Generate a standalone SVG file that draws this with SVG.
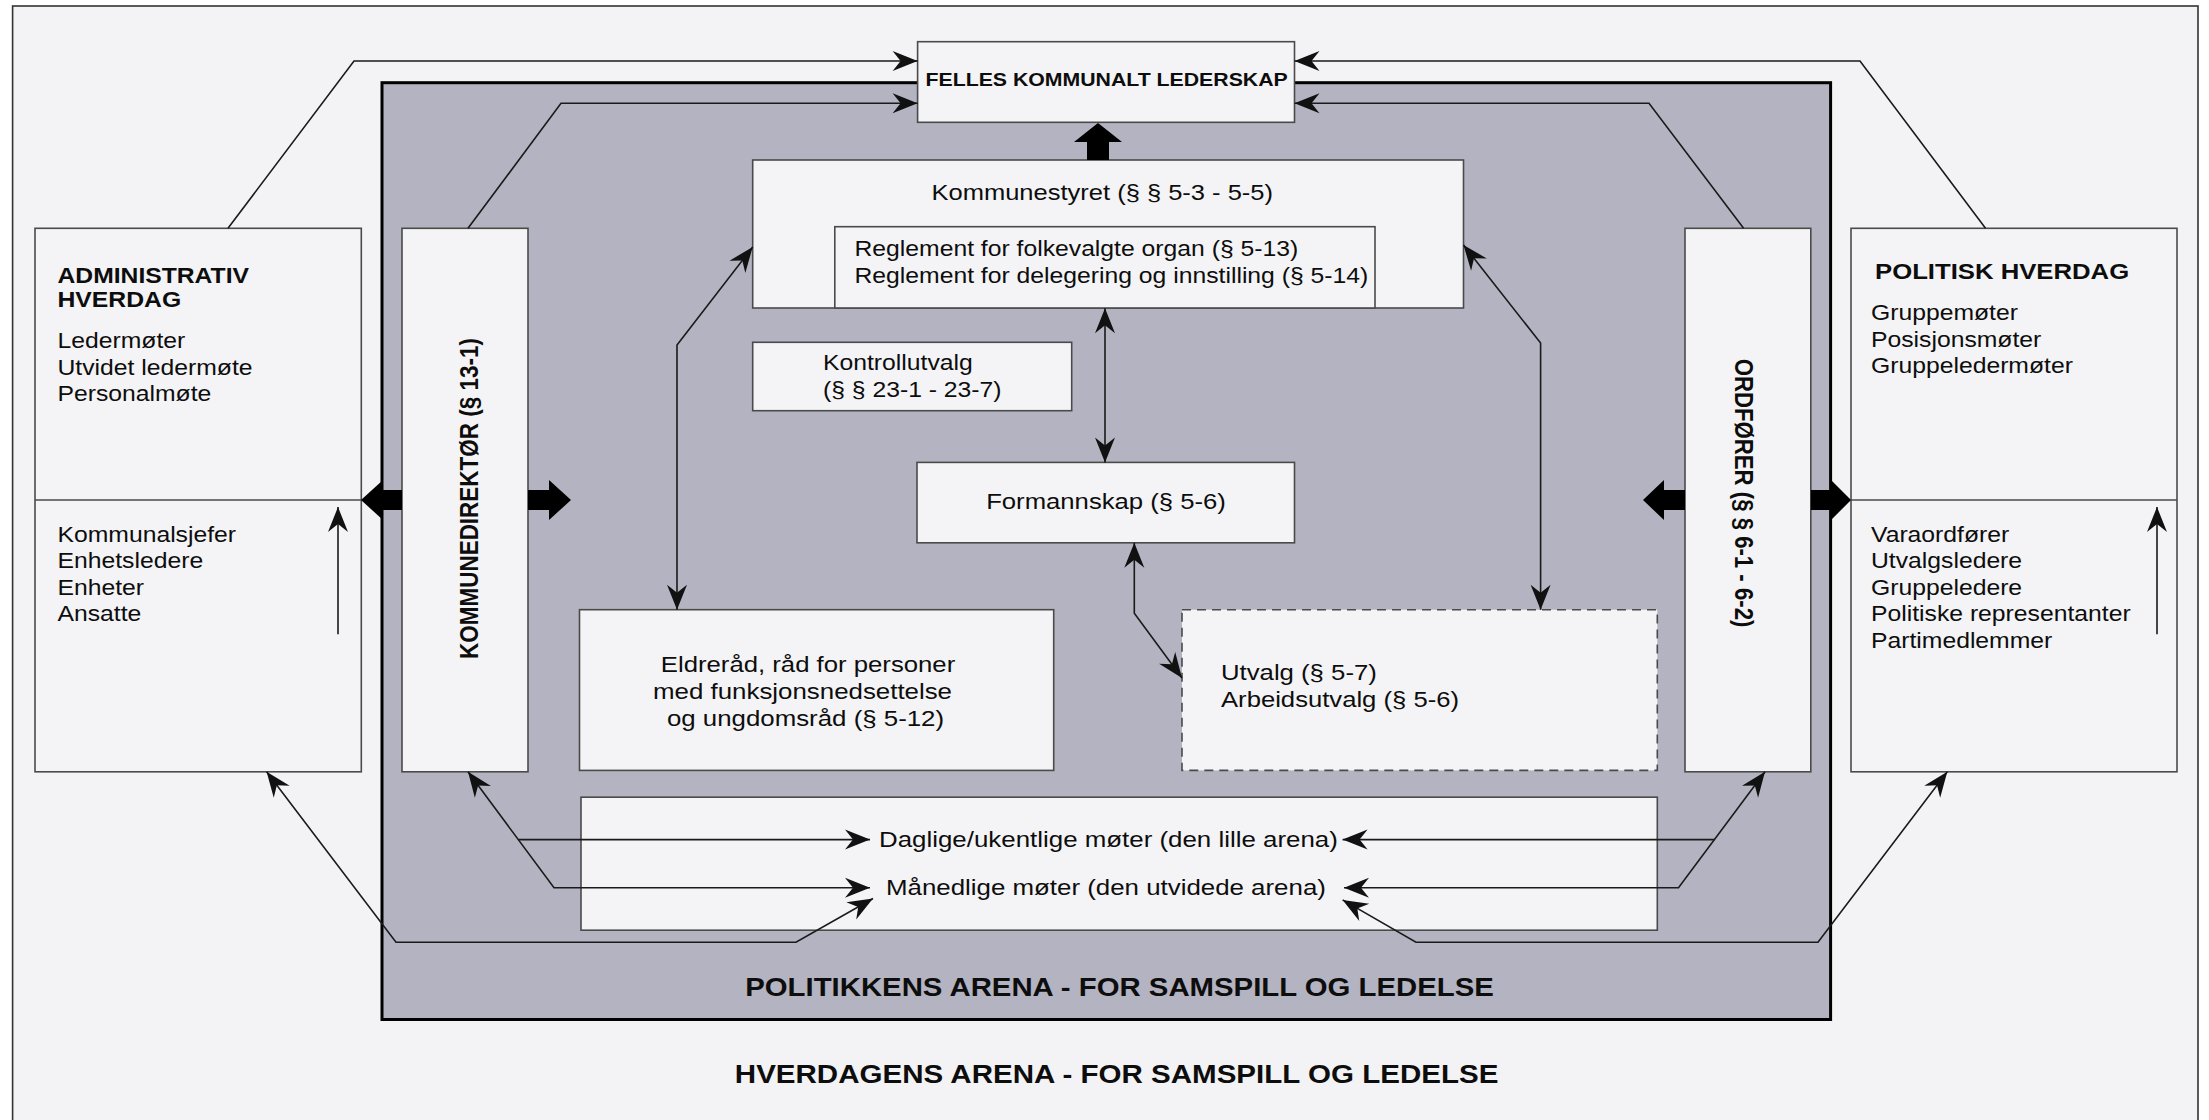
<svg xmlns="http://www.w3.org/2000/svg" width="2209" height="1120" viewBox="0 0 2209 1120">
<style>
.box{fill:#f4f4f6;stroke:#4a4a4a;stroke-width:1.6}
.t{font-family:"Liberation Sans",Arial,sans-serif;font-size:21.5px;fill:#0d0d0d}
.b{font-weight:bold}
.conn{fill:none;stroke:#1a1a1a;stroke-width:1.6}
.blk{fill:#000}
</style>
<defs>
<marker id="ah" viewBox="-27 -12 29 24" refX="0" refY="0" markerWidth="29" markerHeight="24" markerUnits="userSpaceOnUse" orient="auto-start-reverse">
<path d="M0,0 L-25,-10 L-17,0 L-25,10 Z" fill="#111"/>
</marker>
</defs>
<rect x="0" y="0" width="2209" height="1120" fill="#ffffff"/>
<g id="hverdagens-arena">
<rect x="12.6" y="6" width="2185.4" height="1130" fill="#f3f3f5" stroke="#333" stroke-width="1.6"/>
<text class="t b" style="font-size:25.8px" text-anchor="middle" textLength="664" lengthAdjust="spacingAndGlyphs" transform="translate(1116.6,1083) scale(1.15,1)">HVERDAGENS ARENA - FOR SAMSPILL OG LEDELSE</text>
</g>
<g id="politikkens-arena">
<rect x="382" y="82.7" width="1448.6" height="936.8" fill="#b3b3c1" stroke="#000" stroke-width="3"/>
<text class="t b" style="font-size:25.8px" text-anchor="middle" textLength="651" lengthAdjust="spacingAndGlyphs" transform="translate(1119.5,996) scale(1.15,1)">POLITIKKENS ARENA - FOR SAMSPILL OG LEDELSE</text>
</g>
<g id="felles">
<rect class="box" x="917.6" y="41.7" width="376.9" height="80.6"/>
<text class="t b" style="font-size:18.5px" text-anchor="middle" transform="translate(1106.6,86) scale(1.15,1)">FELLES KOMMUNALT LEDERSKAP</text>
</g>
<g id="kommunestyret">
<rect class="box" x="752.7" y="160" width="710.8" height="148"/>
<text class="t" textLength="297" lengthAdjust="spacingAndGlyphs" transform="translate(931.5,200) scale(1.15,1)">Kommunestyret (§ § 5-3 - 5-5)</text>
<rect class="box" x="834.8" y="226.7" width="540.2" height="81.3"/>
<text class="t" transform="translate(854.5,256) scale(1.15,1)">Reglement for folkevalgte organ (§ 5-13)</text>
<text class="t" transform="translate(854.5,283) scale(1.15,1)">Reglement for delegering og innstilling (§ 5-14)</text>
</g>
<g id="kontrollutvalg">
<rect class="box" x="752.7" y="342.3" width="319" height="68.4"/>
<text class="t" transform="translate(823,370) scale(1.15,1)"><tspan x="0" y="0">Kontrollutvalg</tspan><tspan x="0" y="27">(§ § 23-1 - 23-7)</tspan></text>
</g>
<g id="formannskap">
<rect class="box" x="917" y="462.4" width="377.5" height="80.4"/>
<text class="t" text-anchor="middle" textLength="208.5" lengthAdjust="spacingAndGlyphs" transform="translate(1106,509) scale(1.15,1)">Formannskap (§ 5-6)</text>
</g>
<g id="eldreraad">
<rect class="box" x="579.5" y="609.7" width="474.2" height="160.7"/>
<text class="t" text-anchor="middle" textLength="256" lengthAdjust="spacingAndGlyphs" transform="translate(808,671.5) scale(1.15,1)">Eldreråd, råd for personer</text>
<text class="t" text-anchor="middle" textLength="260" lengthAdjust="spacingAndGlyphs" transform="translate(802.5,698.5) scale(1.15,1)">med funksjonsnedsettelse</text>
<text class="t" text-anchor="middle" textLength="241" lengthAdjust="spacingAndGlyphs" transform="translate(805.5,725.5) scale(1.15,1)">og ungdomsråd (§ 5-12)</text>
</g>
<g id="utvalg">
<rect class="box" x="1182" y="609.7" width="475.3" height="160.7" stroke-dasharray="9,6"/>
<text class="t" textLength="135.5" lengthAdjust="spacingAndGlyphs" transform="translate(1221,679.5) scale(1.15,1)">Utvalg (§ 5-7)</text>
<text class="t" textLength="207" lengthAdjust="spacingAndGlyphs" transform="translate(1221,707) scale(1.15,1)">Arbeidsutvalg (§ 5-6)</text>
</g>
<g id="moter">
<rect class="box" x="581" y="797.2" width="1076.3" height="133"/>
<text class="t" textLength="399" lengthAdjust="spacingAndGlyphs" transform="translate(879,846.5) scale(1.15,1)">Daglige/ukentlige møter (den lille arena)</text>
<text class="t" textLength="382.5" lengthAdjust="spacingAndGlyphs" transform="translate(886,895) scale(1.15,1)">Månedlige møter (den utvidede arena)</text>
</g>
<g id="kommunedirektor">
<rect class="box" x="402" y="228.3" width="126" height="543.5"/>
<text class="t b" style="font-size:22.5px" text-anchor="middle" transform="translate(477.5,498.5) scale(1.15,1) rotate(-90)">KOMMUNEDIREKTØR (§ 13-1)</text>
</g>
<g id="ordforer">
<rect class="box" x="1685" y="228.3" width="125.8" height="543.5"/>
<text class="t b" style="font-size:22.2px" text-anchor="middle" transform="translate(1735,493) scale(1.15,1) rotate(90)">ORDFØRER (§ § 6-1 - 6-2)</text>
</g>
<g id="administrativ-hverdag">
<rect class="box" x="35" y="228.3" width="326.3" height="543.5"/>
<line x1="35" y1="500" x2="361.3" y2="500" stroke="#4a4a4a" stroke-width="1.6"/>
<text class="t b" style="font-size:22px" textLength="166.5" lengthAdjust="spacingAndGlyphs" transform="translate(57.5,282.7) scale(1.15,1)">ADMINISTRATIV</text>
<text class="t b" style="font-size:22px" textLength="107.5" lengthAdjust="spacingAndGlyphs" transform="translate(57.5,307.3) scale(1.15,1)">HVERDAG</text>
<text class="t" transform="translate(57.5,348.3) scale(1.15,1)"><tspan x="0" y="0">Ledermøter</tspan><tspan x="0" y="26.7">Utvidet ledermøte</tspan><tspan x="0" y="53.2">Personalmøte</tspan></text>
<text class="t" transform="translate(57.5,541.5) scale(1.15,1)"><tspan x="0" y="0">Kommunalsjefer</tspan><tspan x="0" y="26.5">Enhetsledere</tspan><tspan x="0" y="53.2">Enheter</tspan><tspan x="0" y="79.8">Ansatte</tspan></text>
<path class="conn" d="M338,634.3 L338,507" marker-end="url(#ah)"/>
</g>
<g id="politisk-hverdag">
<rect class="box" x="1851" y="228.3" width="326" height="543.5"/>
<line x1="1851" y1="500" x2="2177" y2="500" stroke="#4a4a4a" stroke-width="1.6"/>
<text class="t b" style="font-size:22px" textLength="221" lengthAdjust="spacingAndGlyphs" transform="translate(1875,279.3) scale(1.15,1)">POLITISK HVERDAG</text>
<text class="t" transform="translate(1871,320) scale(1.15,1)"><tspan x="0" y="0">Gruppemøter</tspan><tspan x="0" y="26.7">Posisjonsmøter</tspan><tspan x="0" y="52.7">Gruppeledermøter</tspan></text>
<text class="t" transform="translate(1871,541.5) scale(1.15,1)"><tspan x="0" y="0">Varaordfører</tspan><tspan x="0" y="26.5">Utvalgsledere</tspan><tspan x="0" y="53.2">Gruppeledere</tspan><tspan x="0" y="80">Politiske representanter</tspan><tspan x="0" y="106.5">Partimedlemmer</tspan></text>
<path class="conn" d="M2157,634.3 L2157,507" marker-end="url(#ah)"/>
</g>
<g id="connectors">
<path class="conn" d="M228,228.3 L354,61 L917.6,61" marker-end="url(#ah)"/>
<path class="conn" d="M468,228.3 L561,103.3 L917.6,103.3" marker-end="url(#ah)"/>
<path class="conn" d="M1985.5,228.3 L1860,61 L1294.5,61" marker-end="url(#ah)"/>
<path class="conn" d="M1743.6,228.3 L1649,103.3 L1294.5,103.3" marker-end="url(#ah)"/>
<path class="conn" d="M752.7,247 L677,345 L677,609.7" marker-start="url(#ah)" marker-end="url(#ah)"/>
<path class="conn" d="M1463.5,245 L1540.6,343 L1540.6,609.7" marker-start="url(#ah)" marker-end="url(#ah)"/>
<path class="conn" d="M1105,308.3 L1105,462.4" marker-start="url(#ah)" marker-end="url(#ah)"/>
<path class="conn" d="M1134.3,542.8 L1134.3,613.3 L1182,678" marker-start="url(#ah)" marker-end="url(#ah)"/>
<path class="conn" d="M468,771.8 L554,887.8 L870,887.8" marker-start="url(#ah)" marker-end="url(#ah)"/>
<path class="conn" d="M518.3,839.6 L870,839.6" marker-end="url(#ah)"/>
<path class="conn" d="M266.6,771.8 L396,942.3 L796,942.3 L873,898.5" marker-start="url(#ah)" marker-end="url(#ah)"/>
<path class="conn" d="M1765,771.8 L1678.5,887.8 L1344,887.8" marker-start="url(#ah)" marker-end="url(#ah)"/>
<path class="conn" d="M1714.4,839.6 L1342.6,839.6" marker-end="url(#ah)"/>
<path class="conn" d="M1947.3,771.8 L1818,942.3 L1416,942.3 L1342.6,899.9" marker-start="url(#ah)" marker-end="url(#ah)"/>
<polygon class="blk" points="1087,160 1087,142 1074,142 1098,123 1122,142 1109,142 1109,160"/>
<polygon class="blk" points="402,490 383,490 383,480 361,500 383,520 383,510 402,510"/>
<polygon class="blk" points="528,490 549,490 549,480 571,500 549,520 549,510 528,510"/>
<polygon class="blk" points="1685,490 1664,490 1664,480 1643,500 1664,520 1664,510 1685,510"/>
<polygon class="blk" points="1810.8,490 1831,490 1831,480 1851,500 1831,520 1831,510 1810.8,510"/>
</g>
</svg>
